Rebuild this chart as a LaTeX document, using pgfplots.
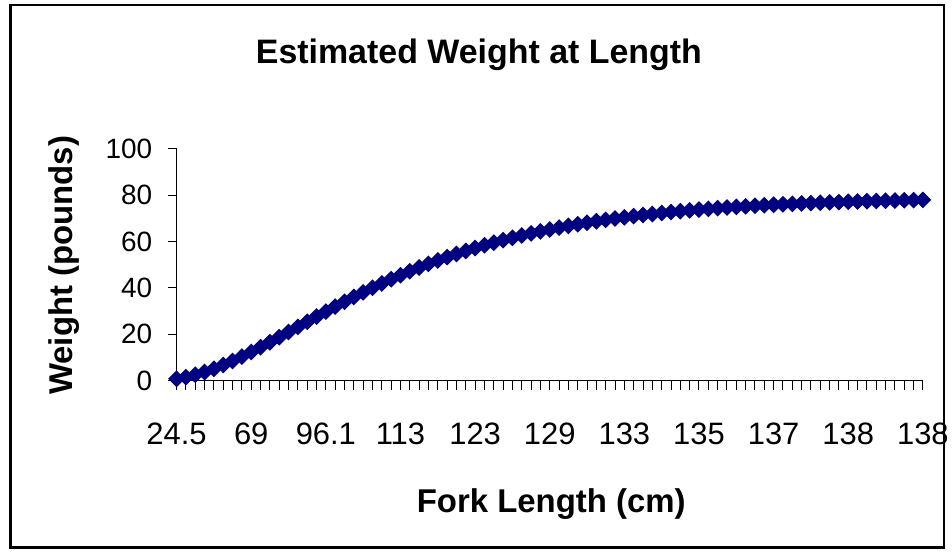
\documentclass[border=0pt]{standalone}
\usepackage{fontspec}
\setmainfont{Liberation Sans}
\usepackage{pgfplots}
\usepackage{pgfplotstable}
\pgfplotsset{compat=1.18}
\definecolor{navy}{RGB}{0,0,128}
\pgfplotstableread{
i w
0 0.80
1 1.53
2 2.50
3 3.70
4 5.12
5 6.71
6 8.47
7 10.35
8 12.35
9 14.43
10 16.57
11 18.76
12 20.98
13 23.20
14 25.42
15 27.63
16 29.81
17 31.95
18 34.06
19 36.11
20 38.11
21 40.06
22 41.94
23 43.76
24 45.52
25 47.21
26 48.83
27 50.39
28 51.89
29 53.32
30 54.69
31 55.99
32 57.24
33 58.43
34 59.56
35 60.64
36 61.66
37 62.63
38 63.55
39 64.43
40 65.26
41 66.04
42 66.79
43 67.49
44 68.16
45 68.80
46 69.39
47 69.96
48 70.49
49 71.00
50 71.47
51 71.92
52 72.35
53 72.75
54 73.13
55 73.48
56 73.82
57 74.14
58 74.44
59 74.72
60 74.99
61 75.24
62 75.47
63 75.70
64 75.91
65 76.10
66 76.29
67 76.47
68 76.63
69 76.79
70 76.93
71 77.07
72 77.20
73 77.32
74 77.44
75 77.55
76 77.65
77 77.74
78 77.83
79 77.92
80 78.00
}\weight
\begin{document}
\begin{tikzpicture}
\path (-177pt,381.5pt) rectangle (775pt,-172.5pt);
\draw[line width=2.5pt] (-166.5pt,376.5pt) rectangle (769pt,-167.5pt);
\begin{axis}[
  at={(0pt,0pt)}, anchor=south west,
  scale only axis, width=748pt, height=232.2pt,
  xmin=0, xmax=80, ymin=0, ymax=100,
  axis x line*=bottom, axis y line*=left,
  xtick={0,8,...,80},
  xticklabels={24.5,69,96.1,113,123,129,133,135,137,138,138},
  minor x tick num=7,
  ytick={0,20,...,100},
  tick align=outside,
  major tick length=9pt, minor tick length=9pt,
  tick style={black, line width=1pt},
  axis line style={black, line width=1.2pt, -},
  clip=false,
  /pgf/number format/assume math mode=true,
  xticklabel style={font=\fontsize{31}{31}\selectfont, anchor=north, yshift=-30pt},
  yticklabel style={font=\fontsize{28}{28}\selectfont, anchor=east, xshift=-12pt},
]
\addplot[navy, line width=1.5pt, mark=square*, mark size=5.2pt,
  mark options={rotate=45, fill=navy, draw=navy}] table[x=i, y=w] {\weight};
\end{axis}
\node[font=\bfseries\fontsize{34}{34}\selectfont] at (303pt,326.5pt) {Estimated Weight at Length};
\node[font=\bfseries\fontsize{33}{33}\selectfont, rotate=90] at (-113pt,115.5pt) {Weight (pounds)};
\node[font=\bfseries\fontsize{33}{33}\selectfont] at (375.5pt,-123.5pt) {Fork Length (cm)};
\end{tikzpicture}
\end{document}
